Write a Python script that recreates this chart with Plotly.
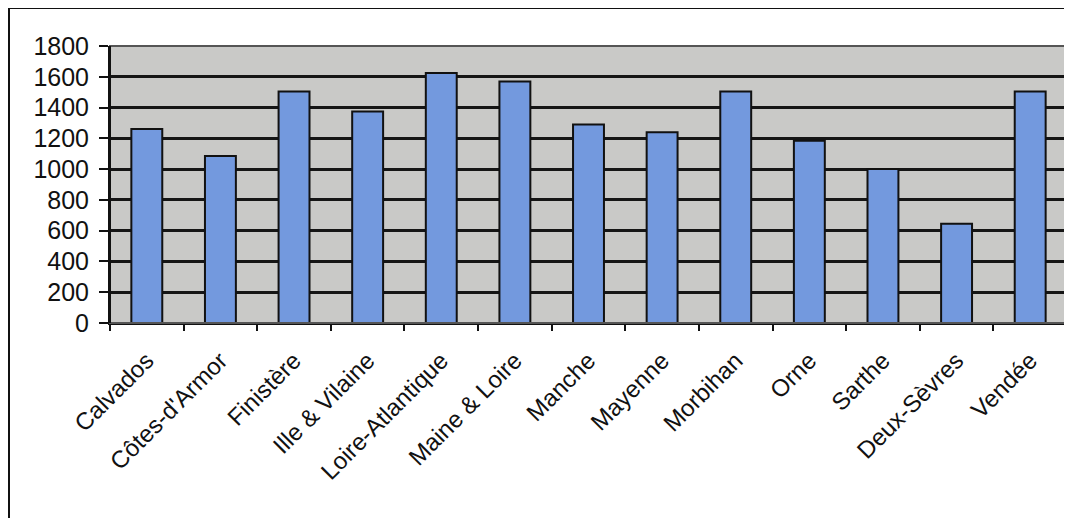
import plotly.graph_objects as go

categories = ["Calvados", "Côtes-d'Armor", "Finistère", "Ille & Vilaine", "Loire-Atlantique",
              "Maine & Loire", "Manche", "Mayenne", "Morbihan", "Orne", "Sarthe",
              "Deux-Sèvres", "Vendée"]
values = [1260, 1085, 1505, 1375, 1625, 1570, 1290, 1240, 1505, 1185, 1000, 645, 1505]
y_ticks = [0, 200, 400, 600, 800, 1000, 1200, 1400, 1600, 1800]

W, H = 1064, 510
L, R, T, B = 102, 5, 38, 195

fig = go.Figure(go.Bar(
    x=categories, y=values,
    marker=dict(color="#7399de", line=dict(color="#111111", width=2)),
    width=0.42,
))

fig.update_layout(
    width=W, height=H,
    margin=dict(l=L, r=R, t=T, b=B),
    paper_bgcolor="white",
    plot_bgcolor="#c9c9c7",
    showlegend=False,
    font=dict(family="Arial, Liberation Sans, sans-serif", color="#111111"),
)
fig.update_yaxes(
    range=[0, 1800], tickvals=y_ticks, ticktext=[str(v) for v in y_ticks],
    showgrid=True, gridcolor="#151515", gridwidth=2.5,
    showline=True, linecolor="#111111", linewidth=2,
    ticks="outside", ticklen=9, tickwidth=2, tickcolor="#111111",
    tickfont=dict(size=25), zeroline=False, ticklabelstandoff=5,
)
fig.update_xaxes(
    tickson="boundaries", ticks="outside", ticklen=6, tickwidth=2, tickcolor="#111111",
    showline=True, linecolor="#111111", linewidth=2,
    tickangle=-45, tickfont=dict(size=24), ticklabelstandoff=12,
    showgrid=False,
)
# plot-area frame in gray
fig.add_shape(type="rect", xref="paper", yref="paper", x0=0, x1=1, y0=0, y1=1,
              line=dict(color="#555555", width=2), layer="above")
fig.add_shape(type="line", xref="paper", yref="paper", x0=0, x1=0, y0=0, y1=1,
              line=dict(color="#111111", width=2), layer="above")
# outer chart border: left and top edges
pw = W - L - R
ph = H - T - B
def px_x(p):
    return (p - L) / pw
def px_y(p):
    return 1 - (p - T) / ph
fig.add_shape(type="line", xref="paper", yref="paper", x0=px_x(1), x1=px_x(1), y0=px_y(0), y1=px_y(H + 5),
              line=dict(color="#111111", width=2))
fig.add_shape(type="line", xref="paper", yref="paper", x0=px_x(1), x1=px_x(W - 4), y0=px_y(0), y1=px_y(0),
              line=dict(color="#111111", width=2))

fig.write_html("out.html")
